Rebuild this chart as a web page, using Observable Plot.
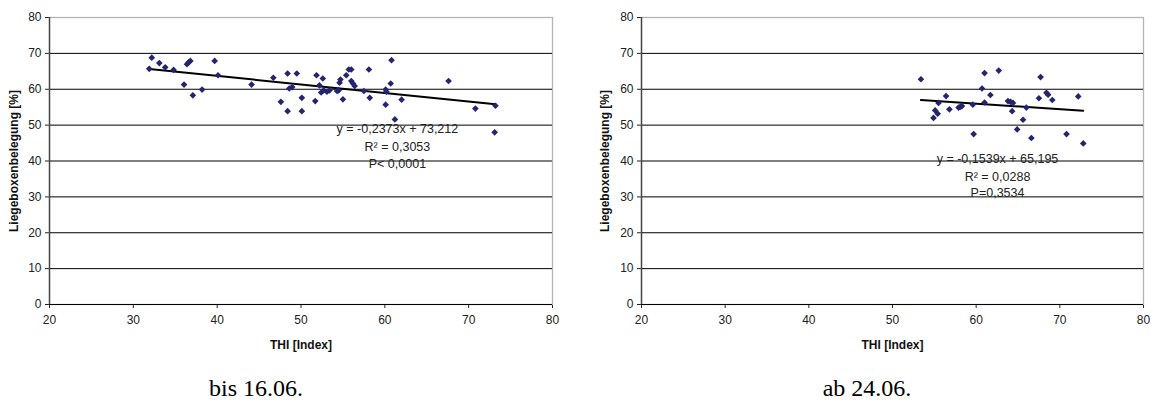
<!DOCTYPE html>
<html><head><meta charset="utf-8">
<script src="https://cdn.jsdelivr.net/npm/d3@7"></script>
<script src="https://cdn.jsdelivr.net/npm/@observablehq/plot@0.6"></script>
<style>
body{margin:0;background:#fff;width:1153px;height:405px;position:relative;overflow:hidden;font-family:"Liberation Sans",Arial,sans-serif;}
.panel{position:absolute;top:0;}
.cap{position:absolute;font-family:"Liberation Serif","Times New Roman",serif;font-size:24px;line-height:24px;color:#000;transform:translateX(-50%);white-space:nowrap;}
</style></head><body>
<div id="left" class="panel" style="left:0"></div>
<div id="right" class="panel" style="left:576px"></div>
<div class="cap" style="left:256px;top:376px">bis 16.06.</div>
<div class="cap" style="left:867px;top:376px">ab 24.06.</div>
<script>
// THI index and cubicle occupancy, period until 16.06.
const thiBefore = [31.9,32.2,33.1,33.8,34.8,36.05,36.4,36.6,36.8,37.1,38.2,39.7,40.1,44.1,46.7,47.6,48.4,48.4,48.6,48.95,49.5,50.1,50.1,51.7,51.85,52.2,52.4,52.6,52.7,53.1,53.4,54.3,54.5,54.6,54.7,55.0,55.4,55.7,56.0,56.0,56.2,56.4,57.5,58.1,58.2,60.1,60.2,60.1,60.7,60.8,61.2,62.0,67.6,70.8,73.2,73.1];
const occBefore = [65.7,68.8,67.3,66.1,65.4,61.3,67.0,67.5,67.9,58.3,59.9,67.9,63.9,61.3,63.2,56.5,64.4,53.9,60.2,60.6,64.4,57.6,53.9,56.7,63.9,61.1,59.1,63.0,59.7,59.3,59.7,59.5,59.7,61.8,62.7,57.2,63.9,65.5,65.5,62.3,61.6,60.9,59.5,65.5,57.6,59.9,59.3,55.7,61.6,68.1,51.6,57.1,62.3,54.6,55.4,48.0];
// period from 24.06.
const thiAfter = [53.4,55.5,55.1,55.4,54.9,56.4,56.8,57.9,58.1,58.3,59.6,59.7,60.7,61.0,61.0,61.7,62.7,63.8,64.1,64.4,64.3,64.9,65.6,66.0,66.6,67.5,67.7,68.4,68.6,69.1,70.8,72.2,72.8];
const occAfter = [62.8,56.2,54.1,53.2,52.0,58.1,54.4,54.9,55.1,55.3,55.7,47.5,60.2,64.5,56.3,58.4,65.2,56.7,56.5,56.2,53.9,48.8,51.5,54.9,46.4,57.5,63.4,59.0,58.5,57.0,47.5,58.0,44.9];
// trend lines (slope, intercept) as printed
const trendBefore = {slope: -0.2373, intercept: 73.212};
const trendAfter = {slope: -0.1539, intercept: 65.195};
const textBefore = ["y = -0,2373x + 73,212", "R² = 0,3053", "P< 0,0001"];
const textAfter = ["y = -0,1539x + 65,195", "R² = 0,0288", "P=0,3534"];
const xTicks = [20,30,40,50,60,70,80];
const yTicks = [0,10,20,30,40,50,60,70,80];
const gridValues = [10,20,30,40,50,60,70];

function chart(thi, occ, trend, texts, annoX, annoY, mLeft, mRight, yLabelOffset) {
  const pts = thi.map((x, i) => ({x, y: occ[i]}));
  const x0 = d3.min(thi), x1 = d3.max(thi);
  const line = [x0, x1].map(x => ({x, y: trend.slope * x + trend.intercept}));
  const anno = texts.map((t, i) => ({x: annoX, y: annoY[i], t}));
  const svg = Plot.plot({
    width: 576, height: 360,
    marginTop: 17, marginBottom: 56, marginLeft: mLeft, marginRight: mRight,
    style: {fontFamily: '"Liberation Sans", Arial, sans-serif', fontSize: "12px", color: "#222", background: "#fff"},
    x: {domain: [20, 80], ticks: xTicks, tickSize: 4, tickPadding: 7, label: "THI [Index]", labelAnchor: "center", labelArrow: "none", labelOffset: 44},
    y: {domain: [0, 80], ticks: yTicks, tickSize: 4, tickPadding: 4, label: "Liegeboxenbelegung [%]", labelAnchor: "center", labelArrow: "none", labelOffset: yLabelOffset},
    marks: [
      Plot.frame({stroke: "#b4b4b4", strokeWidth: 1.3}),
      Plot.ruleY(gridValues, {stroke: "#000", strokeWidth: 1}),
      Plot.ruleY([0], {stroke: "#000", strokeWidth: 1.2}),
      Plot.ruleX([20], {stroke: "#444", strokeWidth: 1.4}),
      Plot.text(anno, {x: "x", y: "y", text: "t", fontSize: 12.5, fill: "#222", textAnchor: "middle"}),
      Plot.line(line, {x: "x", y: "y", stroke: "#000", strokeWidth: 2}),
      Plot.dot(pts, {x: "x", y: "y", symbol: "diamond2", r: 3.0, fill: "#25256f", stroke: "none"})
    ]
  });
  d3.select(svg).selectAll('g[aria-label="x-axis label"], g[aria-label="y-axis label"]').attr("font-weight", "bold").attr("font-size", "12px").attr("fill", "#111");
  return svg;
}

document.getElementById("left").append(chart(thiBefore, occBefore, trendBefore, textBefore, 61.5, [49.0, 43.9, 39.3], 49, 24, 40));
document.getElementById("right").append(chart(thiAfter, occAfter, trendAfter, textAfter, 62.55, [40.5, 35.5, 31.1], 65, 9, 41));
</script>
</body></html>
